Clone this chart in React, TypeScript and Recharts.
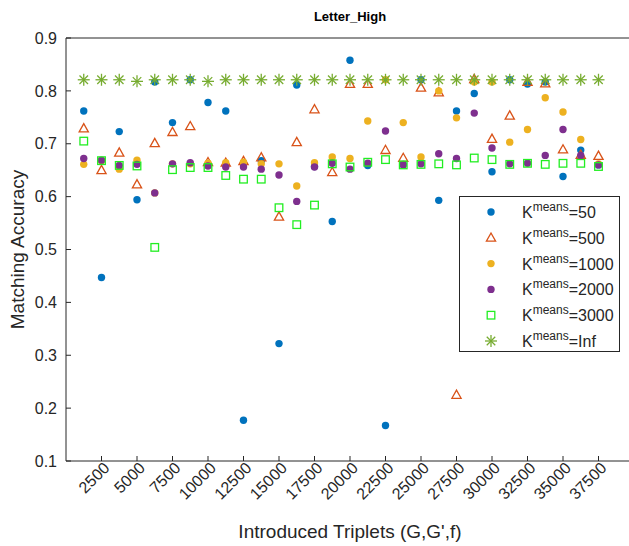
import { ScatterChart, Scatter, XAxis, YAxis, Legend } from 'recharts';

// introduced triplets (x positions of every column of markers)
const triplets = [
  1250, 2500, 3750, 5000, 6250, 7500, 8750, 10000, 11250, 12500,
  13750, 15000, 16250, 17500, 18750, 20000, 21250, 22500, 23750, 25000,
  26250, 27500, 28750, 30000, 31250, 32500, 33750, 35000, 36250, 37500,
];

const k50 = [
  0.762, 0.447, 0.723, 0.594, 0.817, 0.74, 0.821, 0.778, 0.762, 0.177,
  0.668, 0.322, 0.811, 0.657, 0.553, 0.858, 0.659, 0.167, 0.661, 0.821,
  0.593, 0.762, 0.795, 0.647, 0.821, 0.813, 0.817, 0.638, 0.688, 0.66,
];
const k500 = [
  0.729, 0.65, 0.683, 0.623, 0.701, 0.722, 0.733, 0.665, 0.664, 0.667,
  0.674, 0.562, 0.703, 0.765, 0.646, 0.813, 0.813, 0.688, 0.673, 0.806,
  0.797, 0.225, 0.822, 0.709, 0.753, 0.817, 0.814, 0.689, 0.679, 0.677,
];
const k1000 = [
  0.661, 0.668, 0.652, 0.669, 0.607, 0.662, 0.662, 0.663, 0.664, 0.665,
  0.662, 0.662, 0.62, 0.664, 0.675, 0.672, 0.743, 0.821, 0.74, 0.675,
  0.8, 0.749, 0.817, 0.817, 0.703, 0.727, 0.787, 0.76, 0.708, 0.662,
];
const k2000 = [
  0.672, 0.669, 0.659, 0.661, 0.607, 0.662, 0.664, 0.658, 0.656, 0.656,
  0.652, 0.641, 0.591, 0.656, 0.663, 0.652, 0.663, 0.724, 0.66, 0.662,
  0.681, 0.672, 0.758, 0.692, 0.662, 0.663, 0.678, 0.727, 0.678, 0.66,
];
const k3000 = [
  0.705, 0.668, 0.659, 0.658, 0.504, 0.651, 0.655, 0.655, 0.64, 0.633,
  0.633, 0.579, 0.547, 0.584, 0.662, 0.656, 0.665, 0.67, 0.66, 0.661,
  0.662, 0.66, 0.673, 0.67, 0.661, 0.663, 0.661, 0.663, 0.663, 0.657,
];
const kInf = [
  0.821, 0.821, 0.821, 0.818, 0.821, 0.821, 0.821, 0.818, 0.821, 0.821,
  0.821, 0.821, 0.821, 0.821, 0.821, 0.821, 0.821, 0.821, 0.821, 0.821,
  0.821, 0.821, 0.821, 0.821, 0.821, 0.821, 0.821, 0.821, 0.821, 0.821,
];

const xTicks = [
  2500, 5000, 7500, 10000, 12500, 15000, 17500, 20000,
  22500, 25000, 27500, 30000, 32500, 35000, 37500,
];
const yTicks = [0.1, 0.2, 0.3, 0.4, 0.5, 0.6, 0.7, 0.8, 0.9];

type MarkerKind = 'dot' | 'triangle' | 'square' | 'star';

const series: { key: string; label: string; values: number[]; color: string; marker: MarkerKind }[] = [
  { key: 'k50', label: '50', values: k50, color: '#0072BD', marker: 'dot' },
  { key: 'k500', label: '500', values: k500, color: '#D95319', marker: 'triangle' },
  { key: 'k1000', label: '1000', values: k1000, color: '#EDB120', marker: 'dot' },
  { key: 'k2000', label: '2000', values: k2000, color: '#7E2F8E', marker: 'dot' },
  { key: 'k3000', label: '3000', values: k3000, color: '#22EE22', marker: 'square' },
  { key: 'kInf', label: 'Inf', values: kInf, color: '#77AC30', marker: 'star' },
];

const FONT = '"Liberation Sans", Arial, Helvetica, sans-serif';
const INK = '#262626';

function Marker({ cx, cy, kind, color }: { cx: number; cy: number; kind: MarkerKind; color: string }) {
  if (kind === 'dot') return <circle cx={cx} cy={cy} r={3.7} fill={color} />;
  if (kind === 'triangle')
    return (
      <polygon
        points={`${cx},${cy - 4.8} ${cx - 4.6},${cy + 3.4} ${cx + 4.6},${cy + 3.4}`}
        fill="none"
        stroke={color}
        strokeWidth={1.3}
      />
    );
  if (kind === 'square')
    return <rect x={cx - 3.8} y={cy - 3.8} width={7.6} height={7.6} fill="none" stroke={color} strokeWidth={1.3} />;
  const r = 6;
  const d = r * 0.707;
  return (
    <g stroke={color} strokeWidth={1.3}>
      <line x1={cx - r} y1={cy} x2={cx + r} y2={cy} />
      <line x1={cx} y1={cy - r} x2={cx} y2={cy + r} />
      <line x1={cx - d} y1={cy - d} x2={cx + d} y2={cy + d} />
      <line x1={cx - d} y1={cy + d} x2={cx + d} y2={cy - d} />
    </g>
  );
}

function XTick({ x, y, payload }: any) {
  const ax = x + 9;
  const ay = y + 8;
  return (
    <text
      x={ax}
      y={ay}
      transform={`rotate(-45, ${ax}, ${ay})`}
      textAnchor="end"
      fontSize={16}
      fill={INK}
      fontFamily={FONT}
    >
      {payload.value}
    </text>
  );
}

function LegendBox() {
  return (
    <svg width={161} height={156} style={{ display: 'block', background: '#fff', border: `1px solid ${INK}`, boxSizing: 'border-box' }}>
      {series.map((s, i) => {
        const cy = 15 + i * 25.8;
        return (
          <g key={s.key}>
            <Marker cx={31} cy={cy} kind={s.marker} color={s.color} />
            <text x={62} y={cy + 6} fontSize={16} fill={INK} fontFamily={FONT}>
              <tspan>K</tspan>
              <tspan dy={-7} fontSize={12}>means</tspan>
              <tspan dy={7}>={s.label}</tspan>
            </text>
          </g>
        );
      })}
    </svg>
  );
}

export default function App() {
  return (
    <div
      style={{
        position: 'fixed',
        left: 0,
        top: 0,
        width: 629,
        height: 546,
        overflow: 'hidden',
        background: '#fff',
        fontFamily: FONT,
      }}
    >
      <div
        style={{
          position: 'absolute',
          left: 250,
          width: 200,
          top: 9,
          textAlign: 'center',
          fontWeight: 'bold',
          fontSize: 13,
          lineHeight: '15px',
          color: '#000',
        }}
      >
        Letter_High
      </div>
      <ScatterChart width={640} height={546} margin={{ top: 0, right: 0, bottom: 0, left: 6 }}>
        <XAxis
          xAxisId="b"
          type="number"
          dataKey="x"
          domain={[0, 40000]}
          ticks={xTicks}
          interval={0}
          height={85}
          tickSize={-5}
          tickMargin={5}
          tick={<XTick />}
          stroke={INK}
          label={{
            value: "Introduced Triplets (G,G',f)",
            position: 'insideBottom',
            offset: 8,
            style: { fontSize: 19, fill: INK, fontFamily: FONT },
          }}
        />
        <XAxis
          xAxisId="t"
          orientation="top"
          type="number"
          dataKey="x"
          domain={[0, 40000]}
          ticks={xTicks}
          interval={0}
          height={38}
          tickSize={-5}
          tick={false}
          stroke={INK}
        />
        <YAxis
          yAxisId="l"
          type="number"
          dataKey="y"
          domain={[0.1, 0.9]}
          ticks={yTicks}
          interval={0}
          width={60}
          tickSize={-5}
          tickMargin={14}
          tickFormatter={(v: number) => v.toFixed(1)}
          tick={{ fontSize: 16, fill: INK, fontFamily: FONT }}
          stroke={INK}
          label={{
            value: 'Matching Accuracy',
            angle: -90,
            position: 'insideLeft',
            offset: 11,
            style: { fontSize: 19, fill: INK, fontFamily: FONT, textAnchor: 'middle' },
          }}
        />
        <YAxis
          yAxisId="r"
          orientation="right"
          type="number"
          dataKey="y"
          domain={[0.1, 0.9]}
          ticks={yTicks}
          interval={0}
          width={6}
          tickSize={-5}
          tick={false}
          stroke={INK}
        />
        {series.map((s) => (
          <Scatter
            key={s.key}
            name={s.key}
            xAxisId="b"
            yAxisId="l"
            data={triplets.map((x, i) => ({ x, y: s.values[i] }))}
            isAnimationActive={false}
            shape={(p: any) => <Marker cx={p.cx} cy={p.cy} kind={s.marker} color={s.color} />}
          />
        ))}
        <Legend
          layout="vertical"
          align="center"
          verticalAlign="middle"
          wrapperStyle={{ left: 459, top: 196, width: 161, height: 156 }}
          content={() => <LegendBox />}
        />
      </ScatterChart>
    </div>
  );
}
